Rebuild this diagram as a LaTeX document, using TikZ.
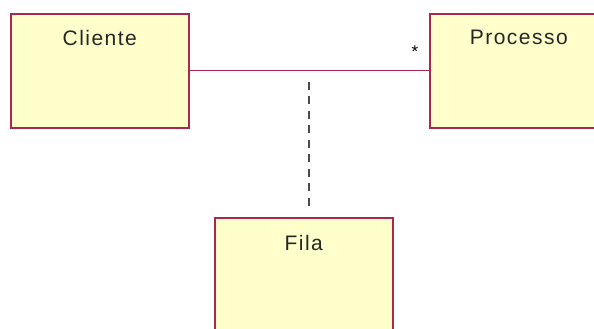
\documentclass[tikz,border=0pt]{standalone}
\usepackage{fontspec}
\setmainfont{Liberation Sans}
\usetikzlibrary{calc}
\definecolor{boxfill}{HTML}{FFFFCC}
\definecolor{boxline}{HTML}{A8284E}
\definecolor{dashgray}{HTML}{4A4A4A}
\newfontfamily\clsfont[LetterSpace=7]{Liberation Sans}
\tikzset{
  cls/.style={draw=boxline, fill=boxfill, line width=1.6pt, rectangle,
    anchor=north west, minimum width=178pt, minimum height=114pt, inner sep=0pt},
  clsname/.style={font=\clsfont\fontsize{21}{21}\selectfont, text=black!85, anchor=base, inner sep=0pt},
  assoc/.style={draw=boxline, line width=1pt},
  dep/.style={draw=dashgray, line width=2pt, dash pattern=on 8pt off 6.5pt},
  mult/.style={font=\fontsize{17}{17}\selectfont, inner sep=0pt}
}
\begin{document}
\begin{tikzpicture}[x=1pt,y=-1pt]
\clip (0,0) rectangle (594,329);
\node[cls] (cli) at (10,13) {};
\node[clsname] (clit) at ($(cli.north)+(0,33)$) {Cliente};
\node[cls] (pro) at (429,13) {};
\node[clsname] (prot) at ($(pro.north)+(0,32)$) {Processo};
\node[cls] (fila) at (214,217) {};
\node[clsname] (filat) at ($(fila.north)+(0,33)$) {Fila};
\draw[assoc] (cli.east) -- (pro.west);
\node[mult, anchor=center] (star) at ($(pro.west)+(-14,-19)$) {*};
\coordinate (m) at ($(cli.east)!0.5!(pro.west)$);
\coordinate (ds) at ($(m)+(0,11)$);
\coordinate (de) at ($(m |- fila.north)+(0,-7)$);
\draw[dep] (ds) -- (de);
\end{tikzpicture}
\end{document}
